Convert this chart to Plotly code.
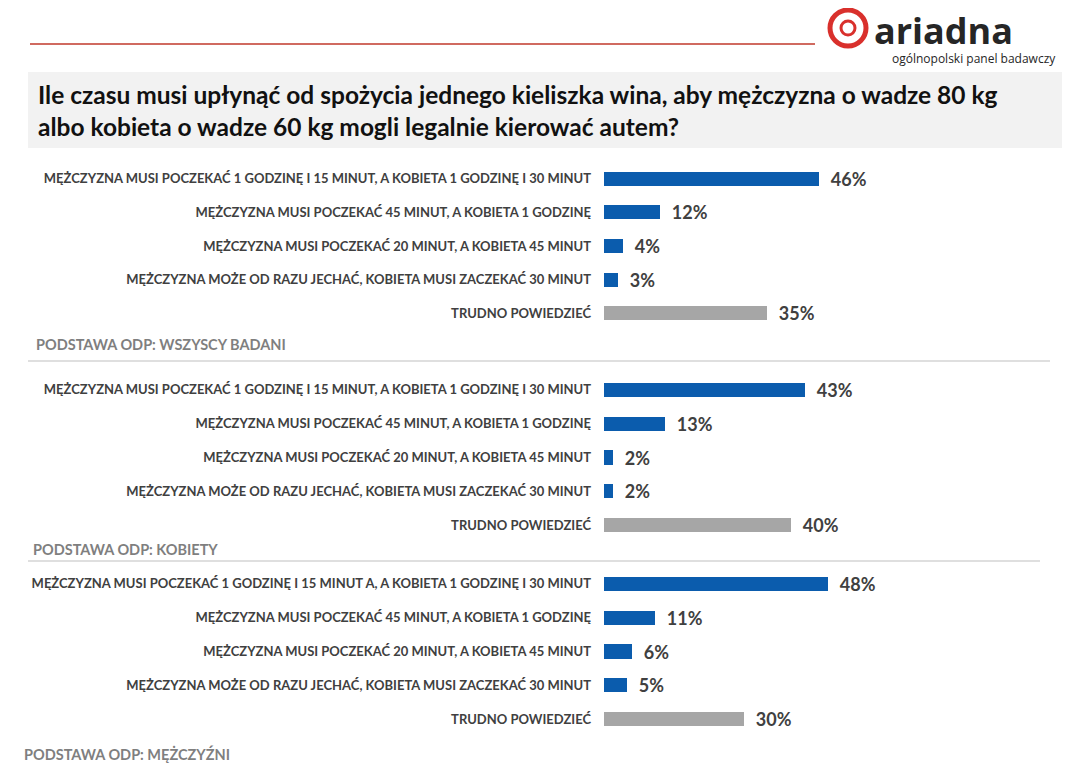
import plotly.graph_objects as go

W, H = 1072, 771
PAD = 8  # page margin of the browser

answers1 = ["MĘŻCZYZNA MUSI POCZEKAĆ 1 GODZINĘ I 15 MINUT, A KOBIETA 1 GODZINĘ I 30 MINUT",
            "MĘŻCZYZNA MUSI POCZEKAĆ 45 MINUT, A KOBIETA 1 GODZINĘ",
            "MĘŻCZYZNA MUSI POCZEKAĆ 20 MINUT, A KOBIETA 45 MINUT",
            "MĘŻCZYZNA MOŻE OD RAZU JECHAĆ, KOBIETA MUSI ZACZEKAĆ 30 MINUT",
            "TRUDNO POWIEDZIEĆ"]
answers3 = ["MĘŻCZYZNA MUSI POCZEKAĆ 1 GODZINĘ I 15 MINUT A, A KOBIETA 1 GODZINĘ I 30 MINUT"] + answers1[1:]
all_resp = [46, 12, 4, 3, 35]
women = [43, 13, 2, 2, 40]
men = [48, 11, 6, 5, 30]
bases = ["PODSTAWA ODP: WSZYSCY BADANI", "PODSTAWA ODP: KOBIETY", "PODSTAWA ODP: MĘŻCZYŹNI"]

blue, grey = "#0b5cad", "#a6a6a6"
colors = [blue] * 4 + [grey]
font = "Lato, 'Open Sans', sans-serif"

FW, FH = W - 2 * PAD, H - 2 * PAD

def py(p):
    return 1 - (p - PAD) / FH

def px(p):
    return (p - PAD) / FW

xmax = (W - PAD - 604) / 4.67

fig = go.Figure()
sections = [(answers1, all_resp, (162, 330)), (answers1, women, (373, 542)), (answers3, men, (567, 736))]
for i, (labels, vals, (top, bot)) in enumerate(sections):
    n = "" if i == 0 else str(i + 1)
    fig.add_trace(go.Bar(
        x=vals, y=list(range(5)), orientation="h", width=0.42,
        marker=dict(color=colors, line=dict(width=0)),
        text=[f"\u00a0\u00a0{v}%" for v in vals], textposition="outside", cliponaxis=False,
        constraintext="none",
        outsidetextfont=dict(size=18, color="#404040", family=font, weight="bold"),
        xaxis="x" + n, yaxis="y" + n, showlegend=False, hoverinfo="skip"))
    fig.update_layout(**{
        "xaxis" + n: dict(domain=[px(604), 1], range=[0, xmax], visible=False, anchor="y" + n),
        "yaxis" + n: dict(domain=[py(bot), py(top)], range=[4.5, -0.5], anchor="x" + n,
                          tickvals=list(range(5)), ticktext=labels, showgrid=False, zeroline=False,
                          showline=False, ticks="", ticklabelstandoff=12,
                          tickfont=dict(size=13, color="#404040", family=font, weight="bold")),
    })

shapes = [
    dict(type="rect", xref="paper", yref="paper", x0=px(28), x1=px(1062), y0=py(148), y1=py(72),
         fillcolor="#f2f2f2", line=dict(width=0), layer="below"),
    dict(type="line", xref="paper", yref="paper", x0=px(30), x1=px(815), y0=py(44), y1=py(44),
         line=dict(color="#c0392b", width=1.5)),
    dict(type="line", xref="paper", yref="paper", x0=px(28), x1=px(1050), y0=py(361), y1=py(361),
         line=dict(color="#bfbfbf", width=1)),
    dict(type="line", xref="paper", yref="paper", x0=px(28), x1=px(1040), y0=py(561), y1=py(561),
         line=dict(color="#bfbfbf", width=1)),
    dict(type="circle", xref="paper", yref="paper", x0=px(830), x1=px(866), y0=py(46), y1=py(10),
         line=dict(color="#d9302c", width=5)),
    dict(type="circle", xref="paper", yref="paper", x0=px(841), x1=px(855), y0=py(35), y1=py(21),
         line=dict(color="#d9302c", width=3)),
]

ann = [
    dict(x=px(36), y=py(110), xanchor="left", yanchor="middle", align="left",
         text="<b>Ile czasu musi upłynąć od spożycia jednego kieliszka wina, aby mężczyzna o wadze 80 kg<br>"
              "albo kobieta o wadze 60 kg mogli legalnie kierować autem?</b>",
         font=dict(size=24.5, color="#111111", family=font)),
    dict(x=px(872), y=py(30), xanchor="left", yanchor="middle", text="<b>ariadna</b>",
         font=dict(size=36, color="#262626", family="'Open Sans', sans-serif")),
    dict(x=px(1058), y=py(59), xanchor="right", yanchor="middle", text="ogólnopolski panel badawczy",
         font=dict(size=12, color="#262626", family="'Open Sans', sans-serif")),
]
for txt, xx, yy in zip(bases, [34, 31, 22], [345, 549, 754]):
    ann.append(dict(x=px(xx), y=py(yy), xanchor="left", yanchor="middle", text=f"<b>{txt}</b>",
                    font=dict(size=14.5, color="#7f7f7f", family=font)))
for a in ann:
    a.update(xref="paper", yref="paper", showarrow=False)

fig.update_layout(width=FW, height=FH, margin=dict(l=0, r=0, t=0, b=0),
                  paper_bgcolor="white", plot_bgcolor="rgba(0,0,0,0)",
                  shapes=shapes, annotations=ann, bargap=0)
fig.write_html("out.html")
